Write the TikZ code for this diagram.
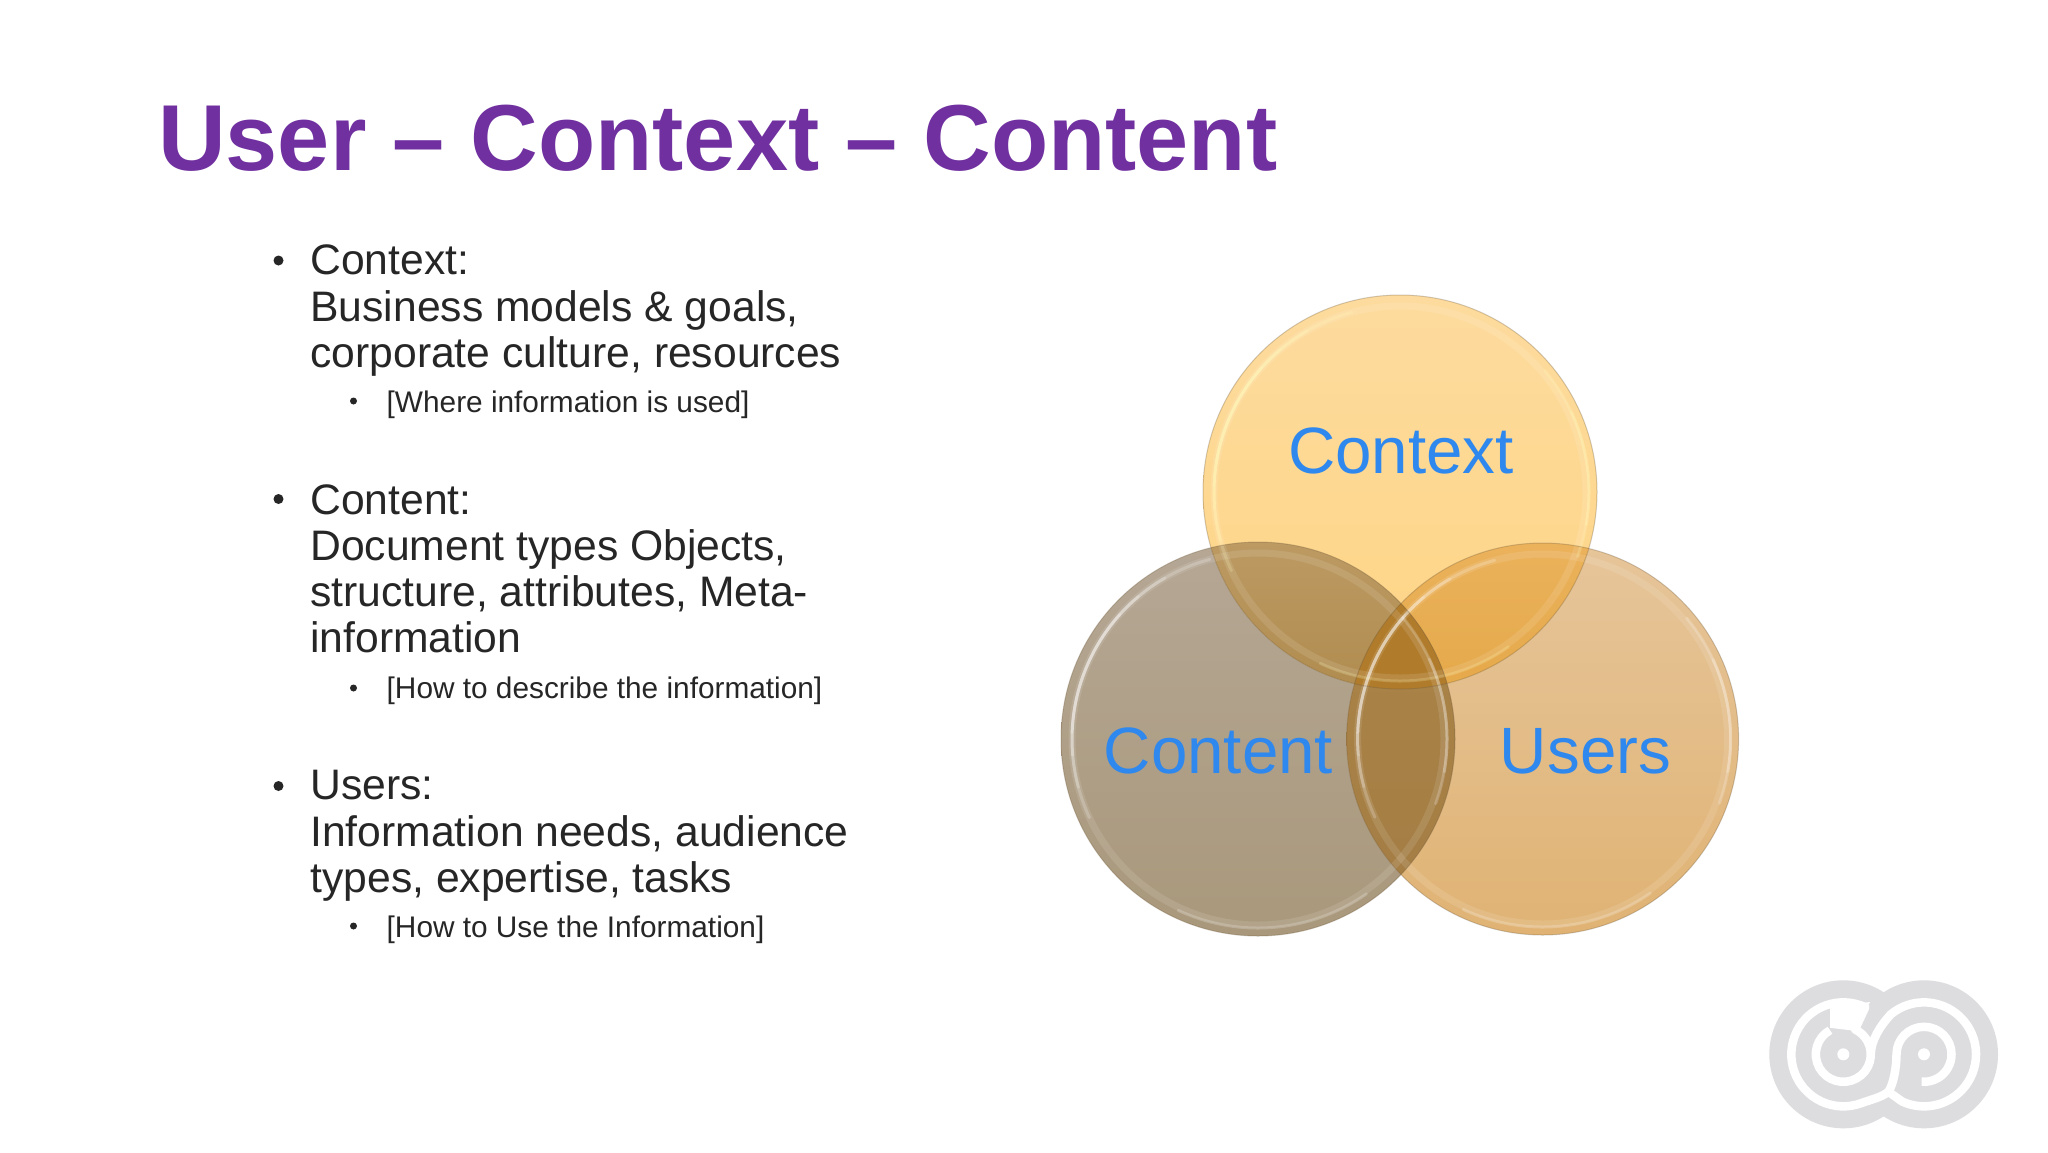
\documentclass[tikz,border=0pt]{standalone}
\usepackage{fontspec}
\setmainfont{Liberation Sans}
\definecolor{titlec}{HTML}{7030A0}
\definecolor{textc}{HTML}{262626}
\definecolor{vennc}{HTML}{2F88EE}
\definecolor{logoc}{HTML}{DDDCDF}
\definecolor{ctxt}{HTML}{FDDB9E}
\definecolor{ctxb}{HTML}{FED585}
\definecolor{cont}{HTML}{B5A795}
\definecolor{conb}{HTML}{A9987B}
\definecolor{usrt}{HTML}{E6C59A}
\definecolor{usrb}{HTML}{E0B374}
\definecolor{ccA}{HTML}{BC9A62}
\definecolor{ccB}{HTML}{B08C50}
\definecolor{cuA}{HTML}{EBB25C}
\definecolor{cuB}{HTML}{E5A94A}
\definecolor{nuA}{HTML}{AA8448}
\definecolor{nuB}{HTML}{A47D44}
\definecolor{allc}{HTML}{B07C2C}
\definecolor{edgec}{HTML}{6E5A3C}
\tikzset{
  ttl/.style={anchor=base west,inner sep=0pt,font=\fontsize{93.7}{110}\selectfont\bfseries,text=titlec},
  main/.style={anchor=base west,inner sep=0pt,font=\fontsize{42.65}{46}\selectfont,text=textc},
  subt/.style={anchor=base west,inner sep=0pt,font=\fontsize{29.8}{36}\selectfont,text=textc},
  bigdot/.style={circle,fill=textc,inner sep=0pt,minimum size=10pt},
  smalldot/.style={circle,fill=textc,inner sep=0pt,minimum size=7pt},
  vlabel/.style={inner sep=0pt,anchor=base,font=\fontsize{65.5}{70}\selectfont,text=vennc},
  rimsoft/.style={line width=7pt,white,opacity=.11},
  rimlay/.style={line width=3pt,line cap=round,draw=#1,opacity=.2},
  vedge/.style={line width=1pt,draw=edgec,opacity=.3},
  logol/.style={draw=white,line width=8.5pt,line join=round},
}
\newcommand{\rimarc}[4]{% r from to colour
  \draw[rimlay=#4] (#2:#1) arc [start angle=#2,end angle=#3,radius=#1];}
\newcommand{\rimset}[4]{% cx cy r colour
  \begin{scope}[shift={(#1,#2)},x=1pt,y=1pt]
    \draw[rimsoft] (0,0) circle [radius=#3-11];
    \rimarc{#3-11}{105}{205}{#4}
    \rimarc{#3-11}{120}{195}{#4}
    \rimarc{#3-11}{130}{185}{#4}
    \rimarc{#3-11}{138}{178}{#4}
    \rimarc{#3-8}{40}{-20}{#4}
    \rimarc{#3-8}{25}{-10}{#4}
    \rimarc{#3-8}{305}{245}{#4}
  \end{scope}}
\begin{document}
\begin{tikzpicture}[x=1pt,y=-1pt]
\useasboundingbox (0,0) rectangle (2048,1152);
\fill[white] (0,0) rectangle (2048,1152);
% title
\node[ttl] (title) at (158,170.5) {User – Context – Content};
% bullets
\node[bigdot] (b1) at (278.5,260.5) {};
\node[main] (t1) at (310.2,274.7) {Context:};
\node[main] (t1a) at (310.2,321.3) {Business models \& goals,};
\node[main] (t1b) at (310.2,367.3) {corporate culture, resources};
\node[smalldot] (s1) at (353.5,401) {};
\node[subt] (u1) at (386.5,412) {[Where information is used]};
\node[bigdot] (b2) at (278.5,499) {};
\node[main] (t2) at (310.2,514) {Content:};
\node[main] (t2a) at (310.2,560) {Document types Objects,};
\node[main] (t2b) at (310.2,606) {structure, attributes, Meta-};
\node[main] (t2c) at (310.2,652.5) {information};
\node[smalldot] (s2) at (353.5,688) {};
\node[subt] (u2) at (386.5,698.5) {[How to describe the information]};
\node[bigdot] (b3) at (278.5,786) {};
\node[main] (t3) at (310.2,799.7) {Users:};
\node[main] (t3a) at (310.2,846) {Information needs, audience};
\node[main] (t3b) at (310.2,892.5) {types, expertise, tasks};
\node[smalldot] (s3) at (353.5,926) {};
\node[subt] (u3) at (386.5,937) {[How to Use the Information]};
% venn
\def\cctx{(1400,492) circle [radius=197]}
\def\ccon{(1258,739) circle [radius=197]}
\def\cusr{(1542.6,739) circle [radius=196]}
\path[top color=cont,bottom color=conb] \ccon;
\path[top color=usrt,bottom color=usrb] \cusr;
\path[top color=ctxt,bottom color=ctxb] \cctx;
\begin{scope}\clip \cctx; \clip \ccon; \path[top color=ccA,bottom color=ccB] (1180,540) rectangle (1420,690); \end{scope}
\begin{scope}\clip \cctx; \clip \cusr; \path[top color=cuA,bottom color=cuB] (1380,540) rectangle (1620,690); \end{scope}
\begin{scope}\clip \ccon; \clip \cusr; \path[top color=nuA,bottom color=nuB] (1340,570) rectangle (1460,910); \end{scope}
\begin{scope}\clip \cctx; \clip \ccon; \clip \cusr; \fill[allc] (1340,560) rectangle (1460,700); \end{scope}
\rimset{1258}{739}{197}{white}
\rimset{1542.6}{739}{196}{white}
\rimset{1400}{492}{197}{yellow!25!white}
\draw[vedge] \ccon;
\draw[vedge] \cusr;
\draw[vedge] \cctx;
\node[vlabel] (lctx) at (1401,473.5) {Context};
\node[vlabel] (lcon) at (1218.5,773.5) {Content};
\node[vlabel] (lusr) at (1585.5,773.5) {Users};
% logo
\begin{scope}[shift={(1883.65,1054.3)},x=1pt,y=1pt]
  \fill[logoc] (-40.35,0) circle [radius=74];
  \fill[logoc] (40.35,0) circle [radius=74];
  \fill[white] (-53.65,47.3) -- (-13.65,52.3) -- (-28.65,23.5) -- (-53.65,26.5) -- cycle;
  \draw[logol] (119:27.5) ++(-40.35,0)
     arc [start angle=119,end angle=425,radius=27.5]
     -- (-18.35,47.1)
     arc [start angle=65,end angle=290,radius=52]
     .. controls (-12,-45) and (-2,-43) .. (4.7,-37.4)
     .. controls (10,-30) and (12.85,-12) .. (12.85,0)
     arc [start angle=180,end angle=-95,radius=27.5];
  \draw[logol] (-12.85,0)
     .. controls (-12.85,14) and (-3,29) .. (6.95,39.8)
     arc [start angle=130,end angle=-115,radius=52]
     -- (4.7,-37.4);
  \fill[white] (-40.35,0) circle [radius=6];
  \fill[white] (40.35,0) circle [radius=6];
\end{scope}
\end{tikzpicture}
\end{document}
